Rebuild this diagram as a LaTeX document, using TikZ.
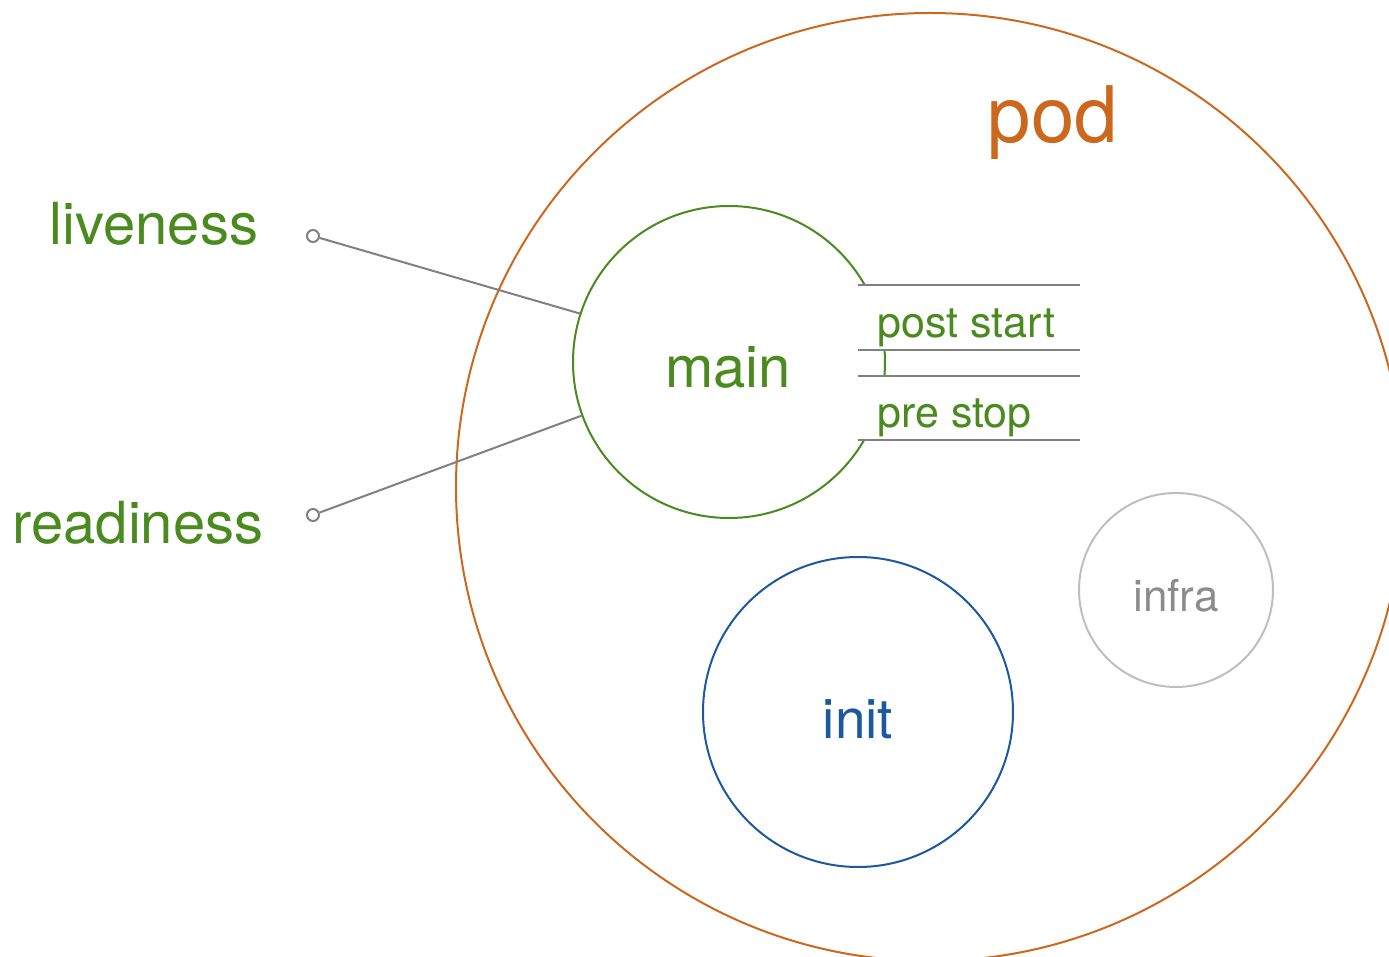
\documentclass[tikz,border=0pt]{standalone}
\usepackage{fontspec}
\setmainfont{TeX Gyre Heros}
\usepackage{tikz}
\usetikzlibrary{calc,positioning}
\definecolor{podorange}{RGB}{204,104,30}
\definecolor{maingreen}{RGB}{74,138,30}
\definecolor{initblue}{RGB}{28,88,158}
\definecolor{infragray}{RGB}{190,190,190}
\definecolor{infratext}{RGB}{140,140,140}
\definecolor{wiregray}{RGB}{128,128,128}

\begin{document}
\begin{tikzpicture}[x=0.5pt, y=-0.5pt,
    ring/.style={circle, draw, line width=1pt, inner sep=0pt},
    probe/.style={circle, draw=wiregray, line width=1pt, fill=white, inner sep=0pt, minimum size=6pt},
    hookbox/.style={rectangle, fill=white, inner sep=0pt, minimum width=111pt},
    hookline/.style={wiregray, line width=1pt},
    wire/.style={wiregray, line width=1pt},
    lbl/.style={anchor=base, inner sep=0pt}]
  \clip (0,0) rectangle (1389,957);
  \useasboundingbox (0,0) rectangle (1389,957);
  % circles
  \node[ring, draw=podorange, minimum size=474pt] (pod) at (930,487) {};
  \node[ring, draw=maingreen, minimum size=156pt] (main) at (729,362) {};
  \node[ring, draw=initblue, minimum size=155pt] (init) at (858,712) {};
  \node[ring, draw=infragray, minimum size=97pt] (infra) at (1176,590) {};
  % hooks
  \node[hookbox, minimum height=32.5pt] (poststart) at (969,317.5) {};
  \node[hookbox, minimum height=32pt] (prestop) at (969,408) {};
  \draw[hookline] (poststart.north west) -- (poststart.north east);
  \draw[hookline] (poststart.south west) -- (poststart.south east);
  \draw[hookline] (prestop.north west) -- (prestop.north east);
  \draw[hookline] (prestop.south west) -- (prestop.south east);
  % probes
  \node[probe] (livenessend) at (313,236) {};
  \node[probe] (readinessend) at (313,515) {};
  \draw[wire] (livenessend) -- (main.162.8);
  \draw[wire] (readinessend) -- (main.200.5);
  % labels
  \node[lbl, text=maingreen, font=\fontsize{29}{30}\selectfont] (liveness) at (154,245) {liveness};
  \node[lbl, text=maingreen, font=\fontsize{29}{30}\selectfont] (readiness) at (138,544) {readiness};
  \node[lbl, text=podorange, font=\fontsize{39}{40}\selectfont] (podlabel) at (1053,143) {pod};
  \node[lbl, text=maingreen, font=\fontsize{29}{30}\selectfont] (mainlabel) at (728,388) {main};
  \node[lbl, anchor=base west, text=maingreen, font=\fontsize{21.5}{22}\selectfont] (poststartlabel) at (877,338) {post start};
  \node[lbl, anchor=base west, text=maingreen, font=\fontsize{21.5}{22}\selectfont] (prestoplabel) at (877,428) {pre stop};
  \node[lbl, text=infratext, font=\fontsize{22}{23}\selectfont] (infralabel) at (1176,611) {infra};
  \node[lbl, text=initblue, font=\fontsize{27.5}{28}\selectfont] (initlabel) at (858,738) {init};
\end{tikzpicture}
\end{document}
